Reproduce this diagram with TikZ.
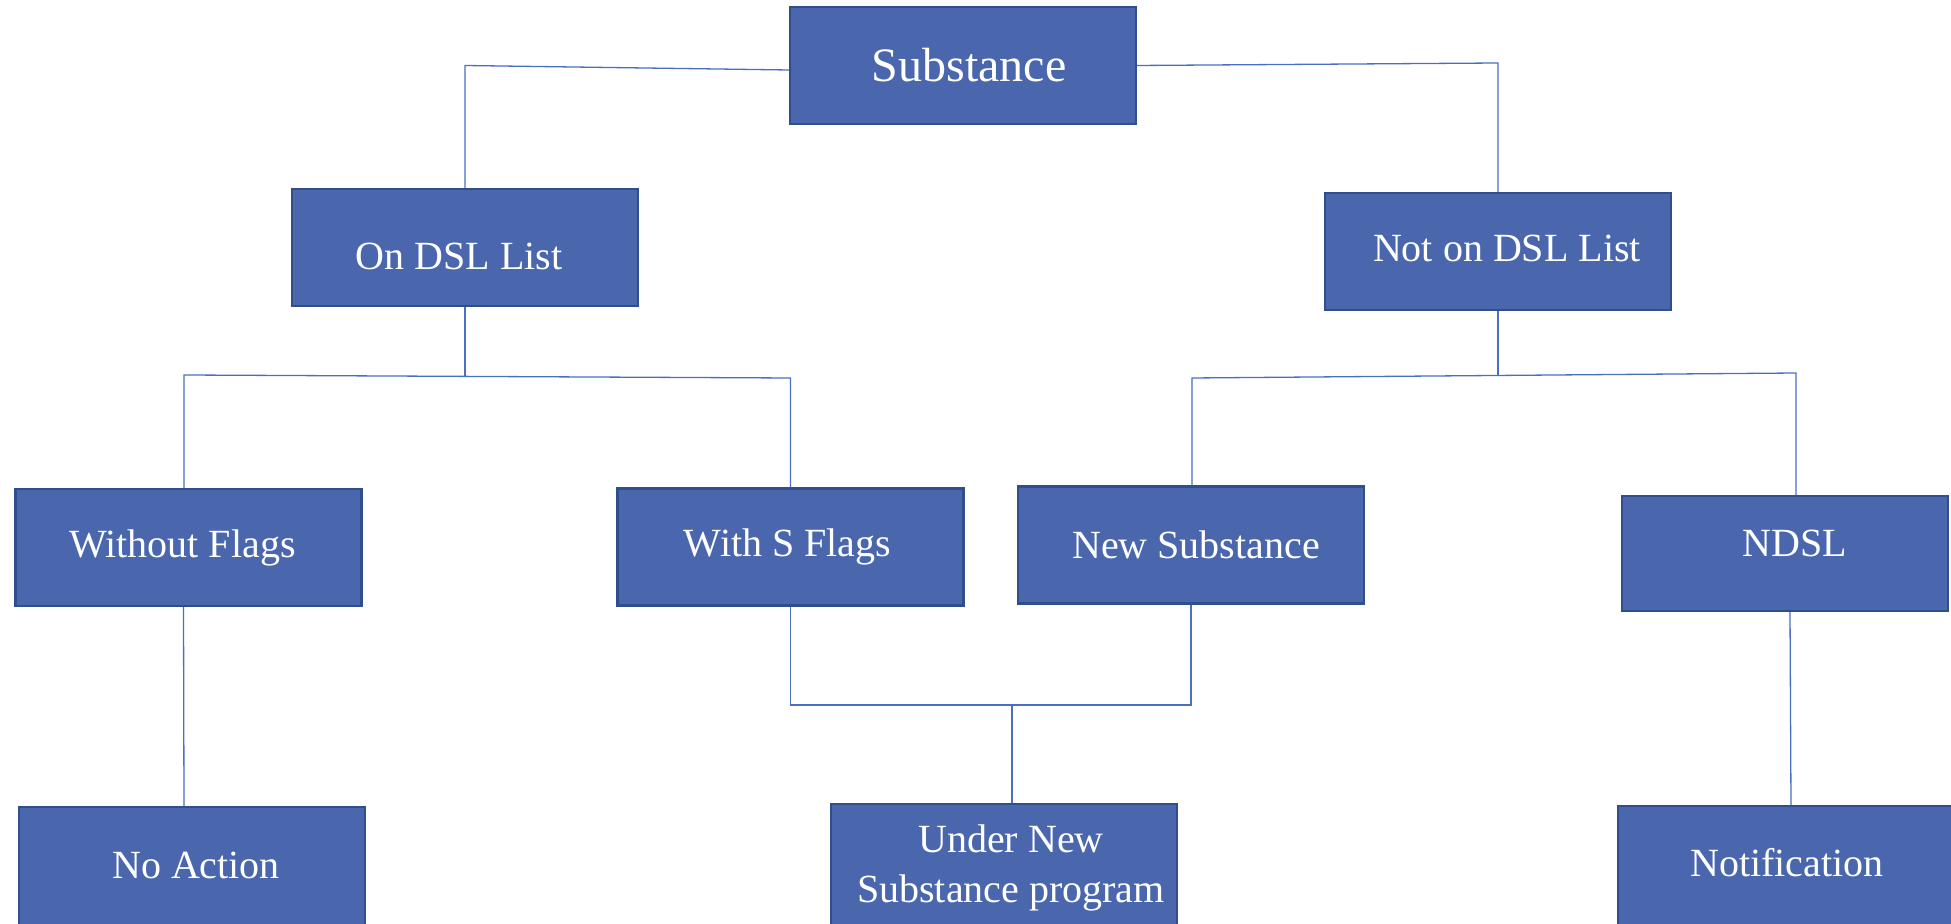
\documentclass[tikz,border=0pt]{standalone}
\usepackage{fontspec}
\setmainfont{Liberation Serif}
\definecolor{boxfill}{HTML}{4A67AE}
\definecolor{boxedge}{HTML}{2F4E8C}
\definecolor{wire}{HTML}{4A6EC4}
\tikzset{
	box/.style = {draw = boxedge, fill = boxfill, line width = 1.1pt, text = white,
		minimum width = 173pt, minimum height = 58.5pt, inner sep = 0pt, align = center,
		font = \fontsize{20}{25}\selectfont},
	wire/.style = {draw = wire, line width = .65pt}
}
\begin{document}
\begin{tikzpicture}[x = .5pt, y = -.5pt]
		\useasboundingbox (0,0) rectangle (1951,924);
		\clip (0,0) rectangle (1951,924);
		
		\node (sub) at (963,65.5) [box, font = \fontsize{24}{29}\selectfont] {\hspace*{6pt}Substance};
		\node (ondsl) at (465,247.5) [box, text height = 22.4pt, text depth = .3pt] {On DSL List\hspace*{6pt}};
		\node (notdsl) at (1498,251.5) [box, text depth = 3.7pt] {\hspace*{9pt}Not on DSL List};
		
		\draw [wire] ([yshift = -2.25pt]sub.west) -- (ondsl.north |- sub.west) -- (ondsl.north);
		\draw [wire] (sub.east) -- ([yshift = 1.25pt]notdsl.north |- sub.east) -- (notdsl.north);
		
		\node (without) at (188.5,547.5) [box] {Without Flags\hspace*{6pt}};
		\node (withs) at (790.5,547) [box] {With S Flags\hspace*{3pt}};
		\node (newsub) at (1191,545) [box] {\hspace*{5pt}New Substance};
		\node (ndsl) at (1785,553.5) [box, minimum width = 163pt, minimum height = 57.5pt,
			text depth = 10pt] {\hspace*{10pt}NDSL};
		
		\coordinate (lj) at (465,376.5);
		\coordinate (la) at (184,375);
		\coordinate (lb) at (790.5,378);
		\draw [wire] (ondsl.south) -- (lj);
		\draw [wire] (without.north -| la) -- (la) -- (lb) -- (withs.north);
		
		\coordinate (rj) at (1498,375.5);
		\coordinate (ra) at (1192,378);
		\coordinate (rb) at (1796,373);
		\draw [wire] (notdsl.south) -- (rj);
		\draw [wire] (newsub.north -| ra) -- (ra) -- (rb) -- (ndsl.north -| rb);
		
		% bottom row runs off the page
		\node (noact) at (192,869) [box, minimum height = 62pt, text depth = 3.5pt] {\hspace*{4pt}No Action};
		\node (under) at (1004,866) [box, minimum height = 62pt, text height = 40.9pt] {\hspace*{7pt}Under New\\\hspace*{7pt}Substance program};
		\node (notif) at (1791,868) [box, minimum height = 62pt, text depth = 5.5pt] {Notification\hspace*{4pt}};
		
		\draw [wire] ([xshift = -2.5pt]without.south) -- ([xshift = -4pt]noact.north);
		\coordinate (mj) at (1012,705);
		\draw [wire] (withs.south) -- (withs.south |- mj) -- (newsub.south |- mj) -- (newsub.south);
		\draw [wire] (mj) -- ([xshift = 4pt]under.north);
		\draw [wire] ([xshift = 2.5pt]ndsl.south) -- (notif.north);
\end{tikzpicture}
\end{document}
